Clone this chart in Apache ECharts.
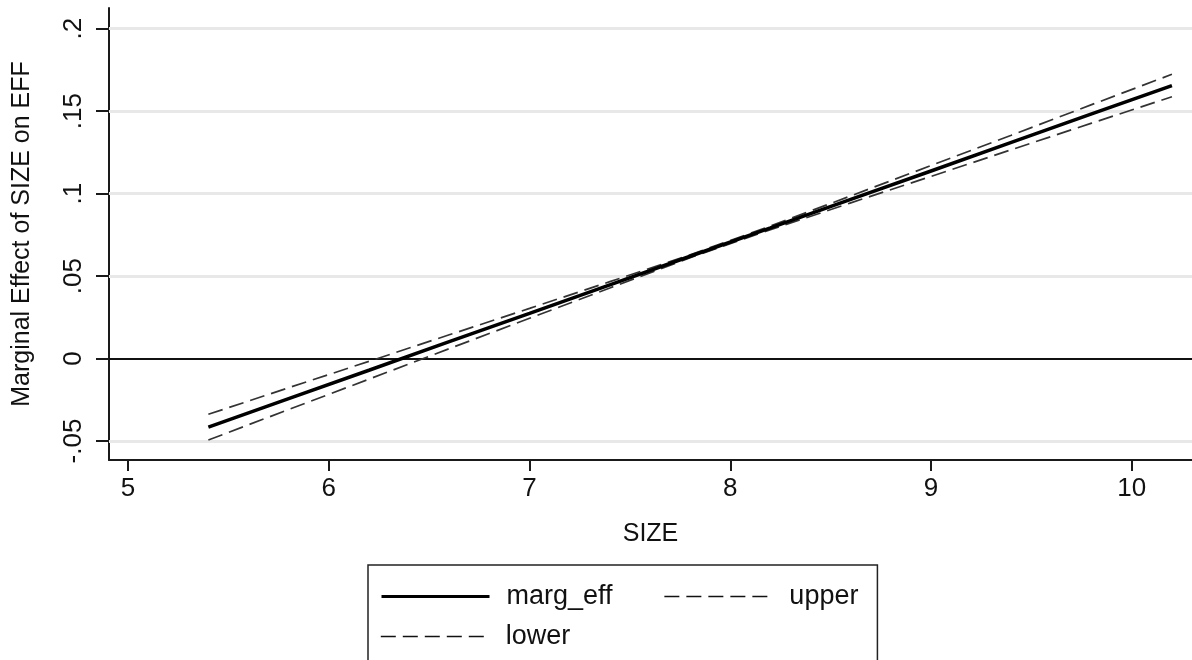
<!DOCTYPE html>
<html>
<head>
<meta charset="utf-8">
<title>Marginal Effect of SIZE on EFF</title>
<script src="https://cdn.jsdelivr.net/npm/echarts@6/dist/echarts.min.js"></script>
<style>
  html, body { margin: 0; padding: 0; background: #fff; }
  #myChart { width: 1192px; height: 660px; }
</style>
</head>
<body>
<div id="myChart"></div>
<script>
// values
var sizeVals = [5.4, 5.8, 6.2, 6.6, 7.0, 7.4, 7.8, 8.2, 8.6, 9.0, 9.4, 9.8, 10.2];
var margEff  = [-0.0416, -0.0243, -0.0071, 0.0102, 0.0274, 0.0447, 0.0620, 0.0792, 0.0965, 0.1137, 0.1310, 0.1483, 0.1655];
var upperVals = [-0.0338, -0.0177, -0.0017, 0.0144, 0.0304, 0.0466, 0.0629, 0.0803, 0.0986, 0.1170, 0.1354, 0.1539, 0.1723];
var lowerVals = [-0.0494, -0.0309, -0.0125, 0.0060, 0.0244, 0.0428, 0.0611, 0.0781, 0.0944, 0.1104, 0.1266, 0.1427, 0.1587];

var xTicks = [5, 6, 7, 8, 9, 10];
var yTicks = [-0.05, 0, 0.05, 0.1, 0.15, 0.2];
var yTickLabels = ['-.05', '0', '.05', '.1', '.15', '.2'];
var yGridVals = [-0.05, 0.05, 0.1, 0.15, 0.2];

var font = 'Liberation Sans, Arial, sans-serif';

function pairs(ys) {
  return sizeVals.map(function (x, i) { return [x, ys[i]]; });
}

var myChart = echarts.init(document.getElementById('myChart'));
var legendText = { fontFamily: font, fontSize: 27, color: '#111', padding: [0, 0, 0, 12] };
var options = {
  backgroundColor: '#fff',
  animation: false,
  grid: { left: 109, right: 0, top: 8, bottom: 200 },
  legend: [
    {
      data: [
        { name: 'marg_eff', lineStyle: { width: 3, color: '#000' } },
        { name: 'upper', lineStyle: { width: 1.6, color: '#111' } }
      ],
      left: 368,
      top: 565,
      orient: 'horizontal',
      itemWidth: 108,
      itemHeight: 16,
      itemGap: 51,
      padding: [18, 19, 60, 12],
      borderColor: '#222',
      borderWidth: 1.5,
      selectedMode: false,
      itemStyle: { opacity: 0, borderWidth: 0 },
      textStyle: legendText
    },
    {
      data: [{ name: 'lower', lineStyle: { width: 1.6, color: '#111' } }],
      left: 368,
      top: 623,
      itemWidth: 108,
      itemHeight: 16,
      padding: [0, 0, 0, 12],
      selectedMode: false,
      itemStyle: { opacity: 0, borderWidth: 0 },
      textStyle: legendText
    }
  ],
  xAxis: {
    type: 'value',
    min: 4.905,
    max: 10.30,
    name: 'SIZE',
    nameLocation: 'middle',
    nameGap: 62,
    nameTextStyle: { fontFamily: font, fontSize: 25, color: '#111' },
    axisLine: { show: true, onZero: false, lineStyle: { color: '#1a1a1a', width: 2 } },
    axisTick: { show: true, customValues: xTicks, length: 11, lineStyle: { color: '#1a1a1a', width: 2 } },
    axisLabel: { customValues: xTicks, margin: 16, fontFamily: font, fontSize: 26, color: '#111' },
    splitLine: { show: false }
  },
  yAxis: {
    type: 'value',
    min: -0.0615,
    max: 0.2125,
    name: 'Marginal Effect of SIZE on EFF',
    nameLocation: 'middle',
    nameGap: 74,
    nameRotate: 90,
    nameTextStyle: { fontFamily: font, fontSize: 25, color: '#111' },
    axisLine: { show: true, lineStyle: { color: '#1a1a1a', width: 2 } },
    axisTick: { show: true, customValues: yTicks, length: 13, lineStyle: { color: '#1a1a1a', width: 2 } },
    axisLabel: {
      customValues: yTicks,
      rotate: 90,
      margin: 22,
      fontFamily: font,
      fontSize: 26,
      color: '#111',
      formatter: function (v) {
        for (var i = 0; i < yTicks.length; i++) {
          if (Math.abs(yTicks[i] - v) < 1e-9) return yTickLabels[i];
        }
        return '';
      }
    },
    splitLine: { show: false }
  },
  series: [
    {
      name: 'gridlines',
      type: 'line',
      data: [],
      silent: true,
      markLine: {
        z: 1,
        silent: true,
        symbol: 'none',
        label: { show: false },
        data: yGridVals.map(function (v) {
          return { yAxis: v, lineStyle: { color: '#e8e8e8', width: 3, type: 'solid' } };
        }).concat([{ yAxis: 0, lineStyle: { color: '#111', width: 2, type: 'solid' } }])
      }
    },
    {
      name: 'marg_eff',
      type: 'line',
      z: 4,
      symbol: 'none',
      data: pairs(margEff),
      lineStyle: { color: '#000', width: 3.5, type: 'solid' },
      itemStyle: { color: '#000' }
    },
    {
      name: 'upper',
      type: 'line',
      z: 3,
      symbol: 'none',
      data: pairs(upperVals),
      lineStyle: { color: '#333', width: 1.7, type: [15, 7] },
      itemStyle: { color: '#333' }
    },
    {
      name: 'lower',
      type: 'line',
      z: 3,
      symbol: 'none',
      data: pairs(lowerVals),
      lineStyle: { color: '#333', width: 1.7, type: [15, 7] },
      itemStyle: { color: '#333' }
    }
  ]
};
myChart.setOption(options);
</script>
</body>
</html>
